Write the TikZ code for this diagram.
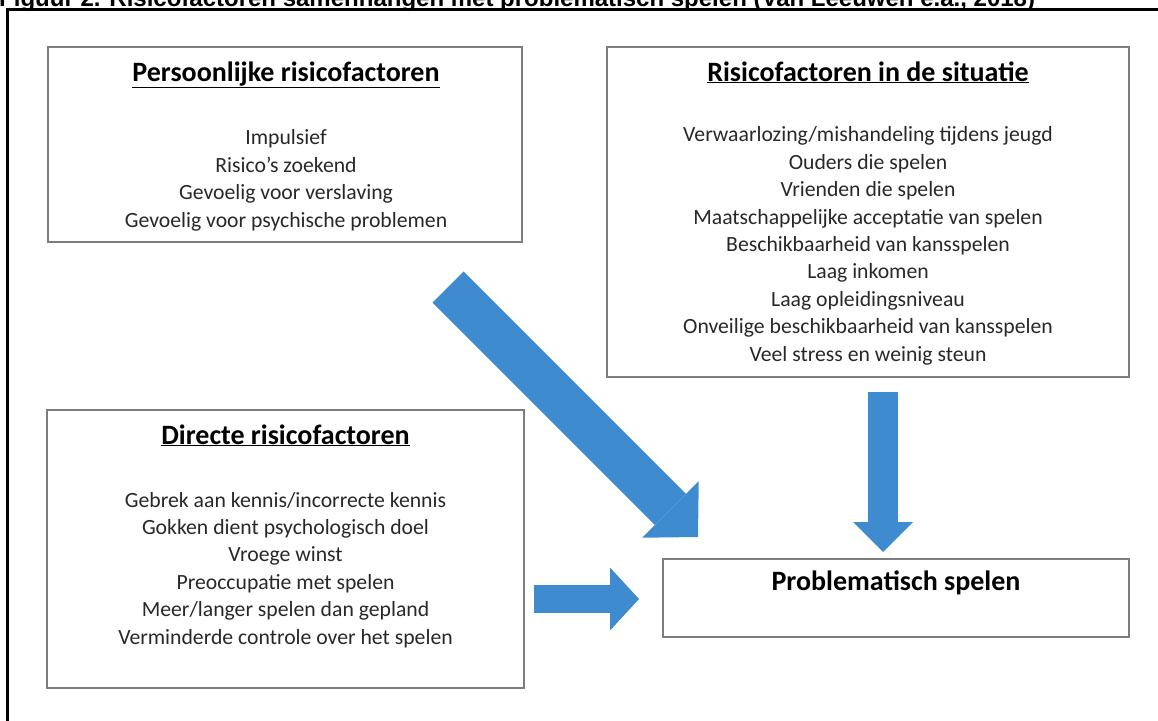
\documentclass[tikz,border=0pt]{standalone}
\usepackage{fontspec}
\setmainfont{Carlito}
\newfontfamily\capfont{Liberation Sans}
\usepackage{xcolor}
\usepackage{tikz}
\usetikzlibrary{positioning,arrows.meta,calc}
\definecolor{boxgray}{RGB}{125,125,125}
\definecolor{itemgray}{RGB}{40,40,40}
\definecolor{arrowblue}{RGB}{62,139,207}
\tikzset{
  box/.style={draw=boxgray, line width=1.6pt, fill=white, inner sep=0pt},
  boxtitle/.style={font=\fontsize{28}{32}\selectfont\bfseries, text=black,
                   inner sep=0pt, anchor=base},
  boxitems/.style={font=\fontsize{21.7}{27.4}\selectfont, text=itemgray,
                   align=center, inner sep=0pt, anchor=base},
  blockarrow/.style n args={3}{draw=arrowblue, line width=#1,
              -{Triangle[length=#2, width=#3, line width=0pt]}},
}

\begin{document}
\begin{tikzpicture}[x=1pt, y=-1pt,
  frame/.style={line width=3pt, black},
  caption/.style={font=\capfont\fontsize{24}{26}\selectfont\bfseries,
                  inner sep=0pt, anchor=base west},
]

  \useasboundingbox (0,0) rectangle (1158,720);
  \clip (0,0) rectangle (1158,720);

  % Caption (cut off at the top) and frame
  \node[caption] (cap) at (-1,6)
    {Figuur 2. Risicofactoren samenhangen met problematisch spelen (Van Leeuwen e.a., 2018)};
  \draw[frame] (7,725) -- (7,9.5) -- (1165,9.5);

  % Boxes
  \node[box, minimum width=474pt, minimum height=195pt] (pers) at (285,144.5) {};
  \node[box, minimum width=522pt, minimum height=330pt] (sit)  at (868,212) {};
  \node[box, minimum width=477pt, minimum height=278pt] (dir)  at (285.5,549) {};
  \node[box, minimum width=466pt, minimum height=78pt]  (prob) at (896,598) {};

  % Box texts (base = baseline of the last line)
  \node[boxtitle] (persT) at (286,81) {\underline{Persoonlijke risicofactoren}};
  \node[boxitems] (persL) at (286,227) {Impulsief\\Risico's zoekend\\Gevoelig voor verslaving\\Gevoelig voor psychische problemen};

  \node[boxtitle] (sitT) at (868,81) {\underline{Risicofactoren in de situatie}};
  \node[boxitems] (sitL) at (868,361) {Verwaarlozing/mishandeling tijdens jeugd\\Ouders die spelen\\Vrienden die spelen\\Maatschappelijke acceptatie van spelen\\Beschikbaarheid van kansspelen\\Laag inkomen\\Laag opleidingsniveau\\Onveilige beschikbaarheid van kansspelen\\Veel stress en weinig steun};

  \node[boxtitle] (dirT) at (285.5,444) {\underline{Directe risicofactoren}};
  \node[boxitems] (dirL) at (285.5,644) {Gebrek aan kennis/incorrecte kennis\\Gokken dient psychologisch doel\\Vroege winst\\Preoccupatie met spelen\\Meer/langer spelen dan gepland\\Verminderde controle over het spelen};

  \node[boxtitle] (probT) at (896,590) {Problematisch spelen};

  % Arrow ends
  \coordinate (persOut) at (448,287);
  \coordinate (probIn1) at (698,537);
  \coordinate (sitOut)  at (883,392);
  \coordinate (probIn2) at (883,552);
  \coordinate (dirOut)  at (534,599);
  \coordinate (probIn3) at (639,599);

  % Arrows
  \draw[blockarrow={44pt}{39pt}{80pt}] (persOut) -- (probIn1);
  \draw[blockarrow={30pt}{30pt}{60pt}] (sitOut) -- (probIn2);
  \draw[blockarrow={28pt}{29pt}{63pt}] (dirOut) -- (probIn3);

\end{tikzpicture}
\end{document}
